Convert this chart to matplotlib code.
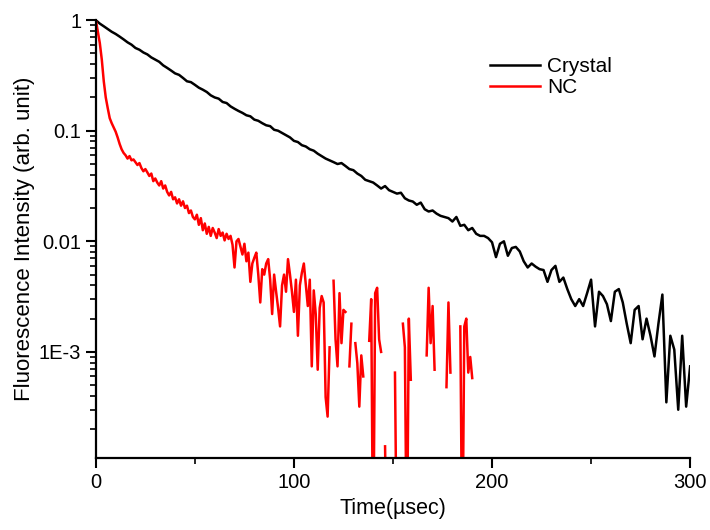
import numpy as np
import matplotlib
matplotlib.use("Agg")
import matplotlib.pyplot as plt
from matplotlib.ticker import FixedLocator, FixedFormatter, LogLocator, MultipleLocator, NullFormatter

nan = np.nan

# ---------------------------------------------------------------------------
# Data (time in usec, intensity normalised)
# ---------------------------------------------------------------------------
crystal_t = np.arange(0, 301, 2)
crystal_i = [
    1.0, 0.93, 0.88, 0.83, 0.785, 0.75, 0.71, 0.67, 0.63, 0.60,
    0.56, 0.54, 0.51, 0.49, 0.46, 0.44, 0.42, 0.39, 0.37, 0.35,
    0.33, 0.32, 0.30, 0.28, 0.275, 0.26, 0.245, 0.235, 0.224, 0.209,
    0.20, 0.195, 0.182, 0.178, 0.166, 0.158, 0.151, 0.145, 0.138, 0.135,
    0.126, 0.123, 0.117, 0.112, 0.110, 0.102, 0.100, 0.0955, 0.091, 0.087,
    0.081, 0.079, 0.074, 0.072, 0.068, 0.066, 0.062, 0.059, 0.056, 0.054,
    0.052, 0.050, 0.051, 0.048, 0.045, 0.044, 0.041, 0.039, 0.036, 0.035,
    0.034, 0.032, 0.030, 0.0316, 0.029, 0.028, 0.027, 0.0275, 0.0245, 0.0234,
    0.0229, 0.0214, 0.0224, 0.0195, 0.0186, 0.019, 0.0178, 0.017, 0.0166, 0.0162,
    0.0151, 0.0166, 0.0138, 0.0141, 0.0126, 0.0132, 0.0117, 0.0112, 0.0112, 0.0107,
    0.0098, 0.0072, 0.0095, 0.0100, 0.0074, 0.0087, 0.0089, 0.0081, 0.0066, 0.0058,
    0.0063, 0.0059, 0.0056, 0.0055, 0.0043, 0.0055, 0.0060, 0.0043, 0.0047, 0.0037,
    0.0030, 0.0026, 0.0030, 0.0026, 0.0034, 0.0045, 0.0017, 0.0035, 0.0032, 0.0027,
    0.0019, 0.0035, 0.0037, 0.0028, 0.0018, 0.0012, 0.0024, 0.0026, 0.0013, 0.0020,
    0.0014, 0.00091, 0.0018, 0.0033, 0.00035, 0.0014, 0.00105, 0.0003, 0.0014, 0.00032,
    0.00074,
]

nc_t = np.arange(0, 191, 1)
nc_i = [
    1.0, 0.79, 0.62, 0.44, 0.28, 0.20, 0.16, 0.13, 0.117, 0.107,
    0.098, 0.087, 0.076, 0.068, 0.063, 0.060, 0.056, 0.059, 0.054, 0.055,
    0.052, 0.049, 0.051, 0.046, 0.043, 0.045, 0.042, 0.039, 0.041, 0.035,
    0.037, 0.034, 0.032, 0.035, 0.030, 0.032, 0.028, 0.026, 0.028, 0.024,
    0.025, 0.022, 0.024, 0.021, 0.023, 0.020, 0.021, 0.018, 0.019, 0.0166,
    0.0158, 0.0174, 0.0141, 0.0162, 0.0126, 0.0145, 0.0117, 0.0135, 0.0112, 0.0132,
    0.0120, 0.0107, 0.0129, 0.0112, 0.0120, 0.0102, 0.0117, 0.0105, 0.0112, 0.0093,
    0.0058, 0.0100, 0.0105, 0.0089, 0.0076, 0.0095, 0.0066, 0.0079, 0.0043, 0.0063,
    0.0071, 0.0079, 0.0050, 0.0028, 0.0056, 0.0050, 0.0063, 0.0069, 0.0045, 0.0022,
    0.0050, 0.0035, 0.0025, 0.0017, 0.0040, 0.0050, 0.0035, 0.0069, 0.0050, 0.0035,
    0.0023, 0.0045, 0.0014, 0.0040, 0.0052, 0.0063, 0.0040, 0.0026, 0.0045, 0.00074,
    0.0036, 0.0022, 0.00069, 0.0025, 0.0032, 0.0028, 0.00039, 0.00026, 0.0011, nan,
    0.0044, 0.0013, 0.00074, 0.0034, 0.0012, 0.0024, 0.0023, nan, 0.00074, 0.0018,
    nan, 0.0012, 0.00079, 0.00032, 0.00093, 0.0006, nan, nan, 0.00126, 0.0030,
    1e-5, 0.0034, 0.0038, 0.0013, 0.0010, nan, 0.00014, 1e-5, nan, nan,
    nan, 0.00065, 1e-5, nan, nan, 0.0018, 0.0011, 1e-5, 0.0020, 0.00056,
    nan, nan, nan, nan, nan, nan, nan, 0.00093, 0.0038, 0.0012,
    0.0026, 0.00069, nan, nan, nan, nan, nan, 0.00048, 0.0028, 0.00065,
    nan, nan, nan, nan, 0.0017, 1e-5, 0.0017, 0.0020, 0.00065, 0.0009,
    0.00058,
]

y_ticks = [1, 0.1, 0.01, 1e-3]
y_labels = ["1", "0.1", "0.01", "1E-3"]

plt.rcParams["font.family"] = ["Liberation Sans", "DejaVu Sans"]

fig = plt.figure(figsize=(7.1, 5.3), dpi=100)
ax = fig.add_axes([0.135, 0.136, 0.837, 0.826])

ax.plot(crystal_t, crystal_i, color="black", lw=1.8, label="Crystal")
ax.plot(nc_t, nc_i, color="red", lw=1.8, label="NC")

ax.set_yscale("log")
ax.set_xlim(0, 300)
ax.set_ylim(1.1e-4, 1.0)

ax.yaxis.set_major_locator(FixedLocator(y_ticks))
ax.yaxis.set_major_formatter(FixedFormatter(y_labels))
ax.yaxis.set_minor_locator(LogLocator(base=10, subs=np.arange(2, 10)))
ax.yaxis.set_minor_formatter(NullFormatter())
ax.xaxis.set_major_locator(MultipleLocator(100))
ax.xaxis.set_minor_locator(MultipleLocator(50))

for side in ("top", "right"):
    ax.spines[side].set_visible(False)
for side in ("left", "bottom"):
    ax.spines[side].set_linewidth(1.6)

ax.tick_params(which="major", direction="out", length=7, width=1.5, labelsize=14.5)
ax.tick_params(which="minor", direction="out", length=4, width=1.2)

ax.set_xlabel("Time(\u00b5sec)", fontsize=15.5, labelpad=5)
ax.set_ylabel("Fluorescence Intensity (arb. unit)", fontsize=16, labelpad=3)

ax.legend(loc="upper left", bbox_to_anchor=(0.632, 0.958), frameon=False,
          fontsize=15, handlelength=2.4, handletextpad=0.35, labelspacing=0.1)

fig.savefig("out.png", dpi=100)
